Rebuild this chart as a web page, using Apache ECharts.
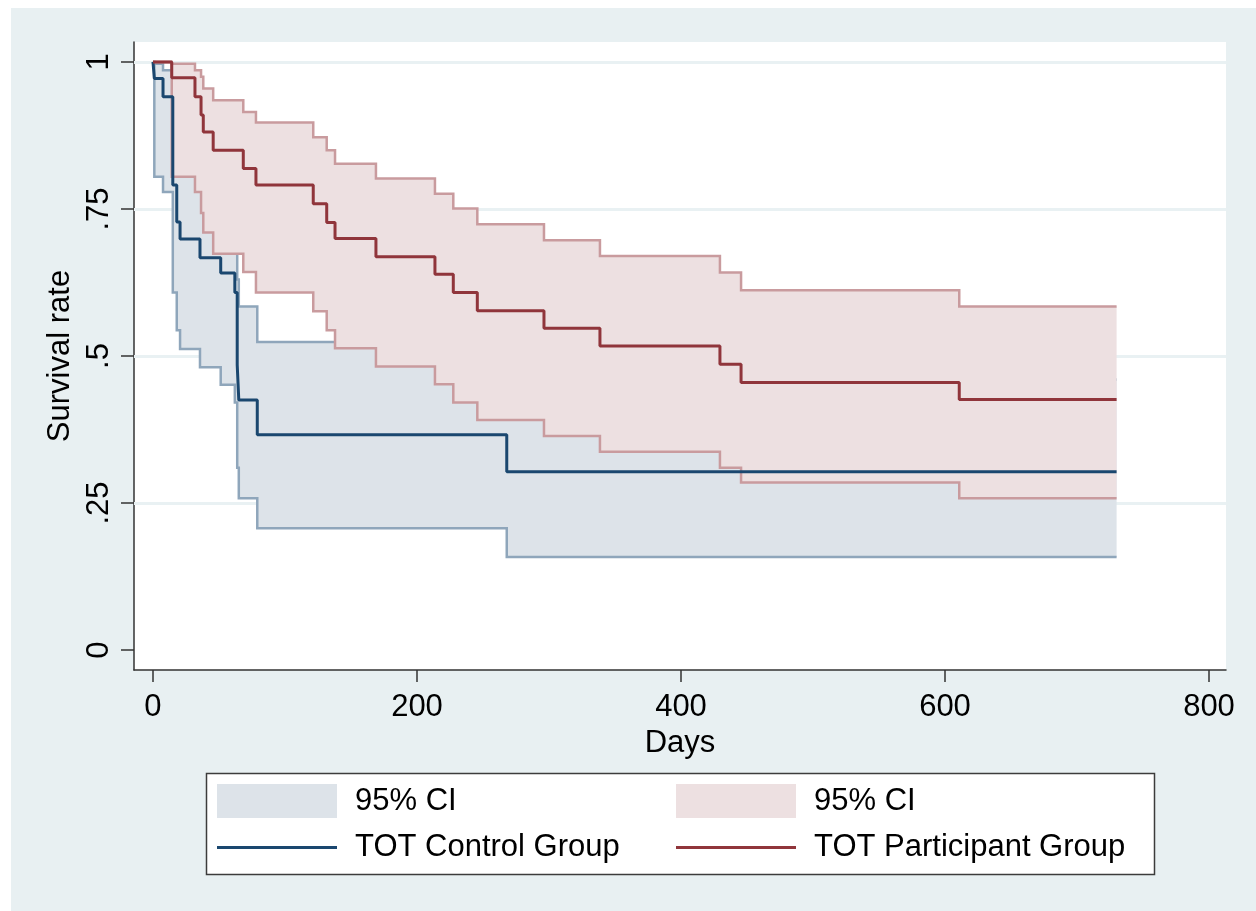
<!DOCTYPE html>
<html>
<head>
<meta charset="utf-8">
<script src="https://cdn.jsdelivr.net/npm/echarts@6.0.0/dist/echarts.min.js"></script>
<style>
  html, body { margin: 0; padding: 0; background: #ffffff; }
  #panel { position: absolute; left: 11px; top: 8px; right: 0; bottom: 0; background: #e8f0f2; }
  #chart { position: absolute; left: 0; top: 0; width: 1256px; height: 911px; }
</style>
</head>
<body>
<div id="panel"></div>
<div id="chart"></div>
<script>
// Kaplan-Meier estimates (days, survival) with 95% confidence limits
const ctrlDays  = [0, 1, 7.6, 15, 18, 20.5, 35.6, 51.3, 62, 63.8, 65, 79, 268, 730];
const ctrlSurv  = [1, 0.972, 0.941, 0.791, 0.728, 0.699, 0.667, 0.641, 0.608, 0.485, 0.425, 0.366, 0.303, 0.303];
const ctrlLower = [1, 0.805, 0.779, 0.608, 0.544, 0.512, 0.481, 0.451, 0.421, 0.31, 0.258, 0.207, 0.158, 0.158];
const ctrlUpper = [1, 0.997, 0.986, 0.9, 0.85, 0.83, 0.8, 0.78, 0.72, 0.63, 0.584, 0.524, 0.46, 0.46];

const partDays  = [0, 14.2, 31.8, 36.4, 38.1, 45.6, 68.4, 78, 121.4, 131.6, 137.9, 168.9, 213.6, 227.5, 245.7, 296.2, 338.6, 429.5, 445.5, 610.8, 730];
const partSurv  = [1, 0.973, 0.941, 0.91, 0.881, 0.85, 0.819, 0.791, 0.759, 0.727, 0.7, 0.669, 0.639, 0.608, 0.577, 0.547, 0.517, 0.486, 0.455, 0.426, 0.426];
const partUpper = [1, 0.997, 0.986, 0.975, 0.955, 0.935, 0.915, 0.897, 0.872, 0.85, 0.827, 0.802, 0.776, 0.751, 0.724, 0.697, 0.67, 0.642, 0.612, 0.584, 0.584];
const partLower = [1, 0.805, 0.779, 0.743, 0.71, 0.674, 0.643, 0.608, 0.576, 0.544, 0.513, 0.482, 0.452, 0.421, 0.391, 0.364, 0.337, 0.31, 0.285, 0.258, 0.258];

const xTickVals = [0, 200, 400, 600, 800];
const yTickVals = [0, 0.25, 0.5, 0.75, 1];
const yTickLabels = ['0', '.25', '.5', '.75', '1'];
const yGridVals = [0.25, 0.5, 0.75, 1];

const NAVY = '#1a476f', MAROON = '#90353b';
const NAVY_FILL = '#dde3e9', MAROON_FILL = '#ede0e1';
const NAVY_EDGE = '#8fa6bb', MAROON_EDGE = '#c99b9e';
const FONT = '"Liberation Sans", Arial, sans-serif';
const FS = 31;

// vertices of a right-continuous step function
function stepPoints(api, days, vals) {
  const pts = [];
  for (let i = 0; i < days.length; i++) {
    pts.push(api.coord([days[i], vals[i]]));
    if (i < days.length - 1) pts.push(api.coord([days[i + 1], vals[i]]));
  }
  return pts;
}

function bandRenderer(days, lower, upper, fill, edge) {
  return function (params, api) {
    const up = stepPoints(api, days, upper);
    const lo = stepPoints(api, days, lower);
    return {
      type: 'group',
      children: [
        { type: 'polygon', shape: { points: up.concat(lo.slice().reverse()) }, style: { fill: fill, stroke: 'none' } },
        { type: 'polyline', shape: { points: up }, style: { stroke: edge, lineWidth: 2.5, fill: 'none' } },
        { type: 'polyline', shape: { points: lo }, style: { stroke: edge, lineWidth: 2.5, fill: 'none' } }
      ]
    };
  };
}

const zip = (a, b) => a.map((v, i) => [v, b[i]]);
const lineIcon = 'path://M0,0H40V1H0Z';

const legendCommon = {
  orient: 'vertical',
  top: 784,
  padding: 0,
  itemWidth: 120,
  itemHeight: 34,
  itemGap: 14,
  selectedMode: false,
  itemStyle: { borderWidth: 0 },
  formatter: name => (name.indexOf('95% CI') >= 0 ? '95% CI' : name),
  textStyle: { fontSize: FS, color: '#000', fontFamily: FONT, padding: [0, 0, 0, 13] }
};

const chart = echarts.init(document.getElementById('chart'), null, { renderer: 'canvas' });
chart.setOption({
  animation: false,
  backgroundColor: 'transparent',
  grid: { left: 134, right: 30, top: 42, bottom: 241, show: true, backgroundColor: '#ffffff', borderWidth: 0 },
  xAxis: {
    type: 'value',
    min: -14.39, max: 812.88,
    name: 'Days', nameLocation: 'middle', nameGap: 53,
    nameTextStyle: { fontSize: FS, color: '#000', fontFamily: FONT },
    axisLine: { show: true, onZero: false, lineStyle: { color: '#333', width: 1.5 } },
    axisTick: { show: true, length: 12, customValues: xTickVals, lineStyle: { color: '#333', width: 1.5 } },
    axisLabel: { customValues: xTickVals, fontSize: FS, color: '#000', fontFamily: FONT, margin: 22 },
    splitLine: { show: false }
  },
  yAxis: {
    type: 'value',
    min: -0.034, max: 1.034,
    name: 'Survival rate', nameLocation: 'middle', nameRotate: 90, nameGap: 54,
    nameTextStyle: { fontSize: FS, color: '#000', fontFamily: FONT },
    axisLine: { show: true, onZero: false, lineStyle: { color: '#333', width: 1.5 } },
    axisTick: { show: true, length: 13, customValues: yTickVals, lineStyle: { color: '#333', width: 1.5 } },
    axisLabel: {
      customValues: yTickVals, rotate: 90, fontSize: FS, color: '#000', fontFamily: FONT, margin: 19,
      formatter: v => yTickLabels[yTickVals.indexOf(v)]
    },
    splitLine: { show: false }
  },
  legend: [
    Object.assign({}, legendCommon, {
      left: 217,
      data: [{ name: 'Control 95% CI', icon: 'rect' }, { name: 'TOT Control Group', icon: lineIcon }]
    }),
    Object.assign({}, legendCommon, {
      left: 676,
      data: [{ name: 'Participant 95% CI', icon: 'rect' }, { name: 'TOT Participant Group', icon: lineIcon }]
    })
  ],
  graphic: [{
    type: 'rect', z: 0, silent: true,
    shape: { x: 206.5, y: 773.5, width: 948, height: 101 },
    style: { fill: '#ffffff', stroke: '#3c3c3c', lineWidth: 1.5 }
  }],
  series: [
    {
      type: 'line', name: 'gridlines', data: [], z: 1, silent: true,
      markLine: {
        z: 1, silent: true, symbol: 'none', animation: false, label: { show: false },
        lineStyle: { color: '#e9f1f3', width: 3, type: 'solid' },
        data: yGridVals.map(v => ({ yAxis: v }))
      }
    },
    {
      type: 'custom', name: 'Control 95% CI', z: 2, silent: true,
      itemStyle: { color: NAVY_FILL },
      data: [[0, 1]],
      renderItem: bandRenderer(ctrlDays, ctrlLower, ctrlUpper, NAVY_FILL, NAVY_EDGE)
    },
    {
      type: 'custom', name: 'Participant 95% CI', z: 2, silent: true,
      itemStyle: { color: MAROON_FILL },
      data: [[0, 1]],
      renderItem: bandRenderer(partDays, partLower, partUpper, MAROON_FILL, MAROON_EDGE)
    },
    {
      type: 'line', name: 'TOT Control Group', z: 3, step: 'end', symbol: 'none',
      itemStyle: { color: NAVY },
      lineStyle: { color: NAVY, width: 3 },
      data: zip(ctrlDays, ctrlSurv)
    },
    {
      type: 'line', name: 'TOT Participant Group', z: 3, step: 'end', symbol: 'none',
      itemStyle: { color: MAROON },
      lineStyle: { color: MAROON, width: 3 },
      data: zip(partDays, partSurv)
    }
  ]
});
</script>
</body>
</html>
